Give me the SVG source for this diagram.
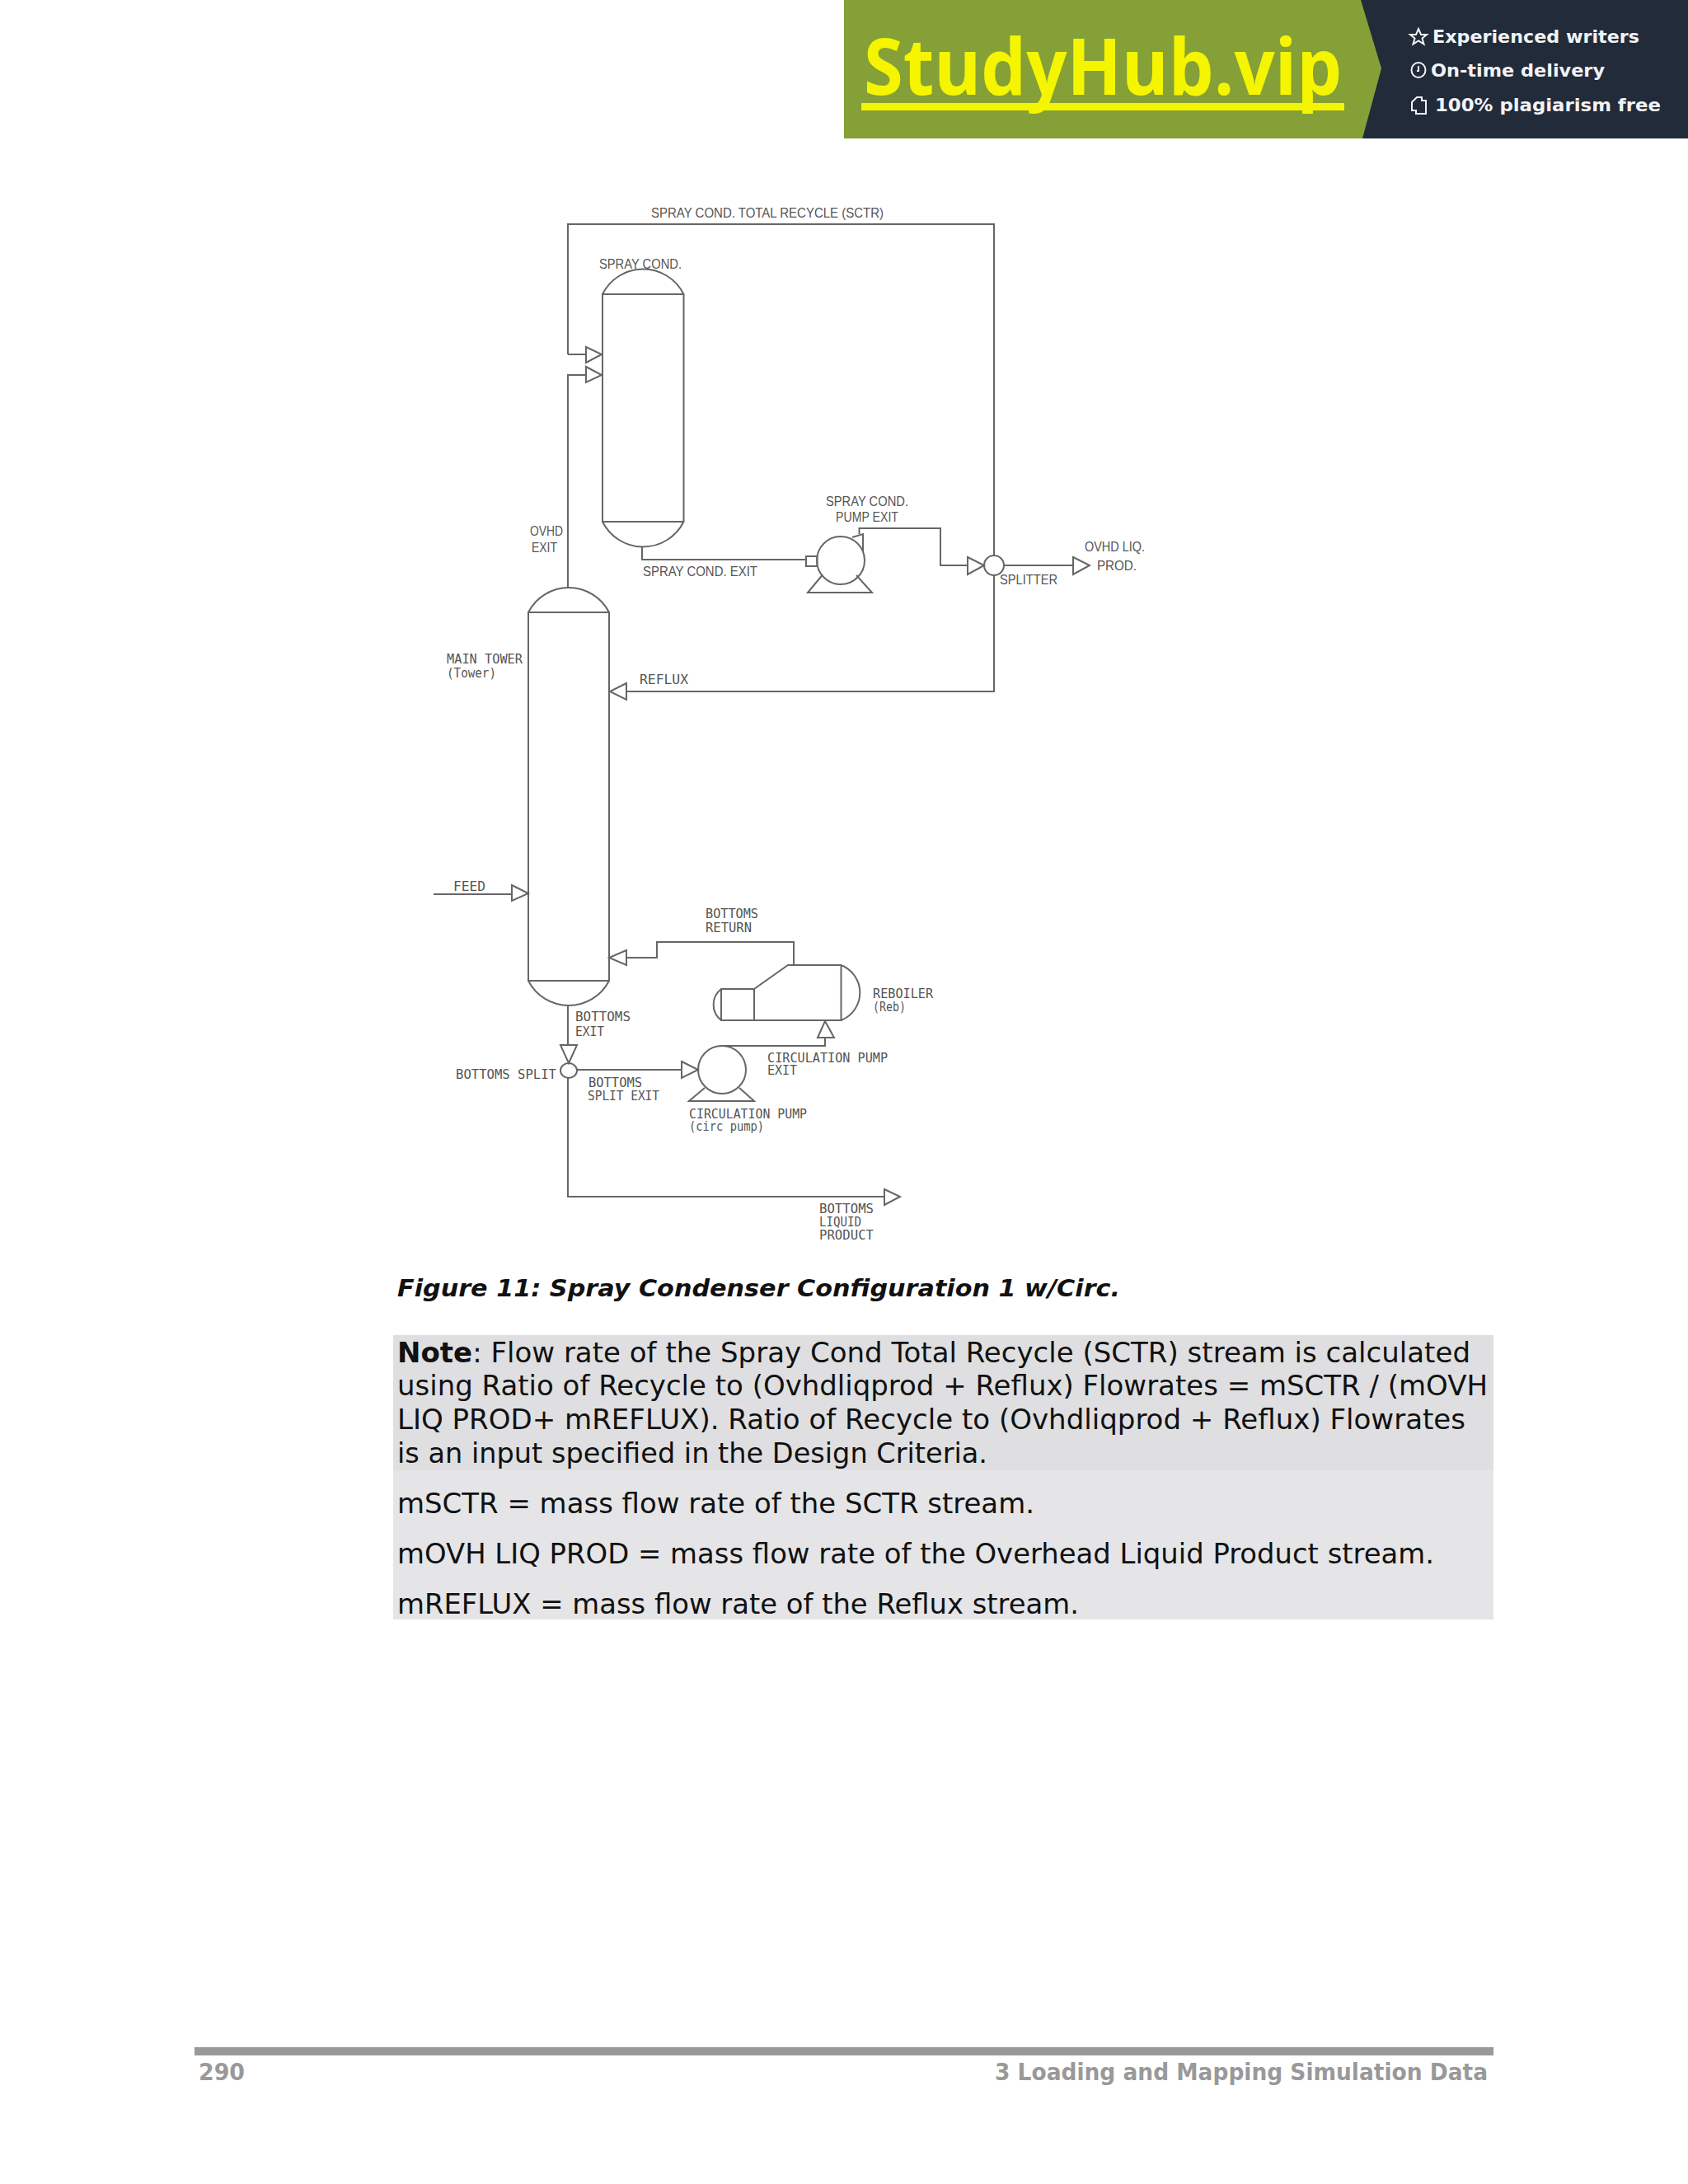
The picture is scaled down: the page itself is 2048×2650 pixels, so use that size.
<svg xmlns="http://www.w3.org/2000/svg" width="2048" height="2650" viewBox="0 0 2048 2650">
<style>
.l{fill:none;stroke:#666;stroke-width:2}
.a{fill:#fff;stroke:#666;stroke-width:2}
.t{font-family:"Liberation Sans",Arial,sans-serif;font-size:17px;fill:#555}
.m{font-family:"DejaVu Sans Mono",monospace;font-size:16px;fill:#555}
.b{font-family:"DejaVu Sans",Verdana,sans-serif;font-size:33px;fill:#111}
.f{font-family:"DejaVu Sans",Verdana,sans-serif;font-size:29px;font-weight:bold;fill:#999}
.w{font-family:"DejaVu Sans",sans-serif;font-size:22px;font-weight:bold;fill:#f2f3f5}
.i{fill:none;stroke:#f2f3f5;stroke-width:2}
</style>
<rect width="2048" height="2650" fill="#fff"/>
<g id="banner">
<rect x="1024" y="0" width="1024" height="168" fill="#222b3a"/>
<path d="M1024 0H1651L1676 83L1653 168H1024Z" fill="#84a037"/>
<text x="1048" y="115" font-family="'Open Sans',sans-serif" font-weight="700" font-size="95" fill="#f5f500" textLength="580" lengthAdjust="spacingAndGlyphs">StudyHub.vip</text>
<rect x="1045" y="125" width="586" height="9" fill="#f5f500"/>
<path class="i" d="M1721 35l3 7h7l-5.500 4.500l2 7l-6.500-4l-6.500 4l2-7l-5.500-4.500h7z"/>
<ellipse class="i" cx="1721" cy="85" rx="8.500" ry="9"/><path class="i" d="M1721 80v6h-2"/>
<path class="i" d="M1713 124l6-6h6v4h5v16h-12v-4h-5z"/>
<text class="w" x="1738" y="52" textLength="251" lengthAdjust="spacingAndGlyphs">Experienced writers</text>
<text class="w" x="1736" y="93" textLength="211" lengthAdjust="spacingAndGlyphs">On-time delivery</text>
<text class="w" x="1741" y="135" textLength="274" lengthAdjust="spacingAndGlyphs">100% plagiarism free</text>
</g>
<g id="connectors">
<path class="l" d="M689 430V272H1206V674M1206 698V839H760"/>
<path class="l" d="M711 430H689M711 455H689V713"/>
<path class="l" d="M779 664V679H978"/>
<path class="l" d="M1042.500 648V641H1141V686H1174"/>
<path class="l" d="M1218 686H1302"/>
<path class="l" d="M526 1085H621"/>
<path class="l" d="M760 1162H797V1143H963V1171"/>
<path class="l" d="M1001 1259V1269H874"/>
<path class="l" d="M689 1220V1268"/>
<path class="l" d="M700 1298H827"/>
<path class="l" d="M689 1308V1452H1073"/>
</g>
<g id="spray-cond"><path class="l" d="M731 357H829.500V633H731ZM731 357A55 55 0 0 1 829.500 357M731 633A55 55 0 0 0 829.500 633"/></g>
<g id="main-tower"><path class="l" d="M641 743H739V1190H641ZM641 743A55 55 0 0 1 739 743M641 1190A55 55 0 0 0 739 1190"/></g>
<g id="spray-pump"><ellipse class="l" cx="1020" cy="680" rx="29" ry="29"/><rect class="l" x="978" y="675" width="13.500" height="12"/><path class="l" d="M997.500 698L980 719H1058L1039 698M1034 652L1047 648V670"/></g>
<g id="splitter"><circle class="l" cx="1206" cy="686" r="12"/></g>
<g id="bottoms-split"><ellipse class="l" cx="690" cy="1299" rx="10" ry="9"/></g>
<g id="circ-pump"><ellipse class="l" cx="876" cy="1298" rx="29" ry="29"/><path class="l" d="M855 1320L836 1336H915L897 1320"/></g>
<g id="reboiler"><path class="l" d="M875 1200H915V1238H875ZM915 1200L956 1171H1020.500V1238H915M1020.500 1171A36 36 0 0 1 1020.500 1238M875 1200A24 24 0 0 0 875 1238"/></g>
<g id="arrows">
<path class="a" d="M711 421L730 430L711 440Z"/>
<path class="a" d="M711 445L730 455L711 464Z"/>
<path class="a" d="M1174 676L1194 686L1174 697Z"/>
<path class="a" d="M1302 676L1322 686L1302 697Z"/>
<path class="a" d="M760 829L740 839L760 849Z"/>
<path class="a" d="M621 1074L641 1084L621 1093Z"/>
<path class="a" d="M760 1153L739 1162L760 1171Z"/>
<path class="a" d="M992 1259L1001 1239L1012 1259Z"/>
<path class="a" d="M680 1268H700L690 1290Z"/>
<path class="a" d="M827 1288L847 1298L827 1308Z"/>
<path class="a" d="M1073 1443L1092 1452L1073 1462Z"/>
</g>
<g id="labels">
<text class="t" x="790" y="264" textLength="282" lengthAdjust="spacingAndGlyphs">SPRAY COND. TOTAL RECYCLE (SCTR)</text>
<text class="t" x="727" y="326" textLength="100" lengthAdjust="spacingAndGlyphs">SPRAY COND.</text>
<text class="t" x="643" y="650" textLength="40" lengthAdjust="spacingAndGlyphs">OVHD</text>
<text class="t" x="645" y="670" textLength="31" lengthAdjust="spacingAndGlyphs">EXIT</text>
<text class="t" x="780" y="699" textLength="139" lengthAdjust="spacingAndGlyphs">SPRAY COND. EXIT</text>
<text class="t" x="1002" y="614" textLength="100" lengthAdjust="spacingAndGlyphs">SPRAY COND.</text>
<text class="t" x="1014" y="633" textLength="76" lengthAdjust="spacingAndGlyphs">PUMP EXIT</text>
<text class="t" x="1213" y="709" textLength="70" lengthAdjust="spacingAndGlyphs">SPLITTER</text>
<text class="t" x="1316" y="669" textLength="73" lengthAdjust="spacingAndGlyphs">OVHD LIQ.</text>
<text class="t" x="1331" y="692" textLength="48" lengthAdjust="spacingAndGlyphs">PROD.</text>
<text class="m" x="542" y="805" textLength="92" lengthAdjust="spacingAndGlyphs">MAIN TOWER</text>
<text class="m" x="542" y="822" textLength="60" lengthAdjust="spacingAndGlyphs">(Tower)</text>
<text class="m" x="776" y="830" textLength="59" lengthAdjust="spacingAndGlyphs">REFLUX</text>
<text class="m" x="550" y="1081" textLength="39" lengthAdjust="spacingAndGlyphs">FEED</text>
<text class="m" x="856" y="1114" textLength="64" lengthAdjust="spacingAndGlyphs">BOTTOMS</text>
<text class="m" x="856" y="1131" textLength="56" lengthAdjust="spacingAndGlyphs">RETURN</text>
<text class="m" x="1059" y="1211" textLength="73" lengthAdjust="spacingAndGlyphs">REBOILER</text>
<text class="m" x="1059" y="1227" textLength="40" lengthAdjust="spacingAndGlyphs">(Reb)</text>
<text class="m" x="698" y="1239" textLength="67" lengthAdjust="spacingAndGlyphs">BOTTOMS</text>
<text class="m" x="698" y="1257" textLength="35" lengthAdjust="spacingAndGlyphs">EXIT</text>
<text class="m" x="553" y="1309" textLength="122" lengthAdjust="spacingAndGlyphs">BOTTOMS SPLIT</text>
<text class="m" x="714" y="1319" textLength="65" lengthAdjust="spacingAndGlyphs">BOTTOMS</text>
<text class="m" x="713" y="1335" textLength="87" lengthAdjust="spacingAndGlyphs">SPLIT EXIT</text>
<text class="m" x="931" y="1289" textLength="146" lengthAdjust="spacingAndGlyphs">CIRCULATION PUMP</text>
<text class="m" x="931" y="1304" textLength="36" lengthAdjust="spacingAndGlyphs">EXIT</text>
<text class="m" x="836" y="1357" textLength="143" lengthAdjust="spacingAndGlyphs">CIRCULATION PUMP</text>
<text class="m" x="836" y="1372" textLength="91" lengthAdjust="spacingAndGlyphs">(circ pump)</text>
<text class="m" x="994" y="1472" textLength="66" lengthAdjust="spacingAndGlyphs">BOTTOMS</text>
<text class="m" x="994" y="1488" textLength="51" lengthAdjust="spacingAndGlyphs">LIQUID</text>
<text class="m" x="994" y="1504" textLength="66" lengthAdjust="spacingAndGlyphs">PRODUCT</text>
</g>
<g id="caption">
<text x="482" y="1573" font-family="'DejaVu Sans',Verdana,sans-serif" font-size="29" font-weight="bold" font-style="italic" fill="#111" textLength="877" lengthAdjust="spacingAndGlyphs">Figure 11: Spray Condenser Configuration 1 w/Circ.</text>
</g>
<g id="note">
<rect x="477" y="1620" width="1335" height="164" fill="#dfdfe1"/>
<rect x="477" y="1784" width="1335" height="181" fill="#e5e5e7"/>
<text class="b" x="482" y="1653" textLength="1302" lengthAdjust="spacingAndGlyphs"><tspan font-weight="bold">Note</tspan>: Flow rate of the Spray Cond Total Recycle (SCTR) stream is calculated</text>
<text class="b" x="482" y="1693" textLength="1323" lengthAdjust="spacingAndGlyphs">using Ratio of Recycle to (Ovhdliqprod + Reflux) Flowrates = mSCTR / (mOVH</text>
<text class="b" x="482" y="1734" textLength="1296" lengthAdjust="spacingAndGlyphs">LIQ PROD+ mREFLUX). Ratio of Recycle to (Ovhdliqprod + Reflux) Flowrates</text>
<text class="b" x="482" y="1775" textLength="716" lengthAdjust="spacingAndGlyphs">is an input specified in the Design Criteria.</text>
<text class="b" x="482" y="1836" textLength="773" lengthAdjust="spacingAndGlyphs">mSCTR = mass flow rate of the SCTR stream.</text>
<text class="b" x="482" y="1897" textLength="1258" lengthAdjust="spacingAndGlyphs">mOVH LIQ PROD = mass flow rate of the Overhead Liquid Product stream.</text>
<text class="b" x="482" y="1958" textLength="827" lengthAdjust="spacingAndGlyphs">mREFLUX = mass flow rate of the Reflux stream.</text>
</g>
<g id="footer">
<rect x="236" y="2484" width="1576" height="10" fill="#999"/>
<text class="f" x="241" y="2524" textLength="56" lengthAdjust="spacingAndGlyphs">290</text>
<text class="f" x="1207" y="2524" textLength="598" lengthAdjust="spacingAndGlyphs">3 Loading and Mapping Simulation Data</text>
</g>
</svg>
